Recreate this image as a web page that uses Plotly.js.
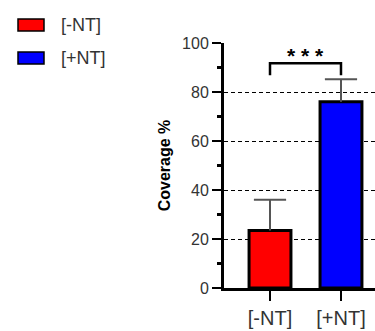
<!DOCTYPE html>
<html>
<head>
<meta charset="utf-8">
<script src="https://cdn.plot.ly/plotly-3.0.1.min.js"></script>
<style>html,body{margin:0;padding:0;background:#fff;}#chart{width:375px;height:331px;}</style>
</head>
<body>
<div id="chart"></div>
<script>
const categories = ['[-NT]', '[+NT]'];
const coverage = [23.5, 76.0];
const errorUp = [12.5, 9.2];
const barColors = ['#ff0000', '#0000ff'];
const legendLabels = ['[-NT]', '[+NT]'];
const significance = '* * *';

const W = 375, H = 331;
const M = {l: 224, r: 0, t: 43, b: 43};
const pw = W - M.l - M.r, ph = H - M.t - M.b;
const px = x => (x - M.l) / pw;
const py = y => (H - M.b - y) / ph;
const FONT = 'Arial, Liberation Sans, sans-serif';

const shapes = [];
const annotations = [];

// significance bracket between the two categories
shapes.push({
  type: 'path', xref: 'x', yref: 'y',
  path: `M 0,86.8 L 0,91.7 L 1,91.7 L 1,86.8`,
  line: {color: '#000', width: 2.5}
});
annotations.push({
  xref: 'x', yref: 'y', x: 0.5, y: 95.0, text: '<b>' + significance + '</b>', showarrow: false,
  font: {family: FONT, size: 21, color: '#000'},
  yanchor: 'middle'
});

// manual legend
legendLabels.forEach((lab, i) => {
  const top = 19 + i * 33;
  shapes.push({
    type: 'rect', xref: 'paper', yref: 'paper',
    x0: px(18), x1: px(44), y0: py(top), y1: py(top + 12),
    fillcolor: barColors[i], line: {color: '#000', width: 1.5}
  });
  annotations.push({
    xref: 'paper', yref: 'paper', x: px(59), y: py(top + 6), text: lab,
    showarrow: false, xanchor: 'left', yanchor: 'middle',
    font: {family: FONT, size: 18, color: '#333'}
  });
});

const bars = {
  type: 'bar', x: categories, y: coverage, width: 0.59,
  marker: {color: barColors, line: {color: '#000', width: 3}},
  showlegend: false, hoverinfo: 'none'
};

// error bars: upward only, cap drawn as a marker at the top
const tops = coverage.map((v, i) => v + errorUp[i]);
const errs = {
  type: 'scatter', mode: 'markers', x: categories, y: tops,
  marker: {symbol: 'line-ew-open', size: 23, color: '#555', line: {color: '#555', width: 2}},
  error_y: {type: 'data', array: [0, 0], arrayminus: errorUp, symmetric: false,
            color: '#555', thickness: 2, width: 0},
  showlegend: false, hoverinfo: 'none', cliponaxis: false
};

const layout = {
  width: W, height: H, margin: M,
  paper_bgcolor: '#fff', plot_bgcolor: '#fff',
  font: {family: FONT, color: '#333'},
  showlegend: false,
  xaxis: {
    type: 'category', range: [-0.648, 1.479],
    showline: true, linecolor: '#000', linewidth: 3,
    ticks: 'outside', ticklen: 10, tickwidth: 2.5, tickcolor: '#000',
    tickfont: {size: 20, color: '#333'}, showgrid: false, zeroline: false
  },
  yaxis: {
    range: [0, 100], dtick: 20, tick0: 0,
    showline: true, linecolor: '#000', linewidth: 3,
    ticks: 'outside', ticklen: 9, tickwidth: 2.5, tickcolor: '#000',
    tickfont: {size: 16, color: '#333'},
    showgrid: true, gridcolor: '#000', gridwidth: 1, griddash: '4px,3px',
    zeroline: false,
    minor: {dtick: 10, ticks: 'outside', ticklen: 4, tickwidth: 2.5, tickcolor: '#000', showgrid: false},
    title: {text: '<b>Coverage %</b>', font: {size: 16, color: '#000'}, standoff: 8}
  },
  shapes: shapes, annotations: annotations
};

Plotly.newPlot('chart', [bars, errs], layout, {displayModeBar: false, staticPlot: true});
</script>
</body>
</html>
